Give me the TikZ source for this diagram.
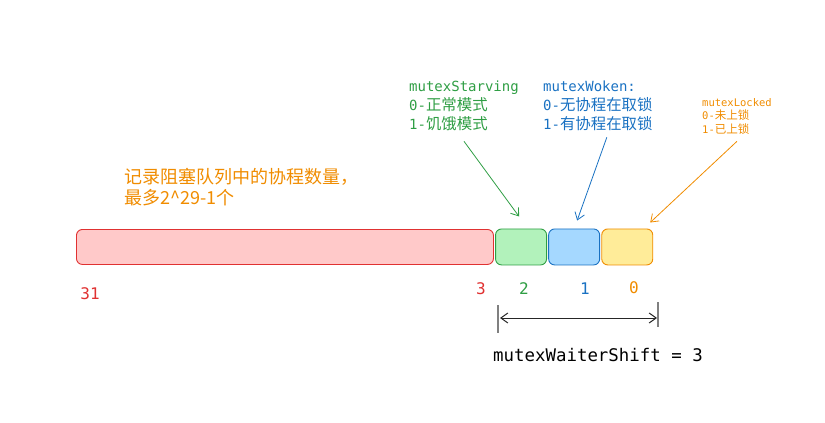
\documentclass[tikz,border=0pt]{standalone}
\usepackage{fontspec}
\setmonofont{DejaVu Sans Mono}
\newfontfamily\cjk{Noto Sans CJK SC}
\newfontfamily\cjkwide{Noto Sans CJK SC}[Scale=1.1]
\usetikzlibrary{arrows.meta,positioning}
\definecolor{bitred}{HTML}{E03131}
\definecolor{bitgreen}{HTML}{2F9E44}
\definecolor{bitblue}{HTML}{1971C2}
\definecolor{bitorange}{HTML}{F08C00}
\definecolor{fillred}{HTML}{FFC9C9}
\definecolor{fillgreen}{HTML}{B2F2BB}
\definecolor{fillblue}{HTML}{A5D8FF}
\definecolor{fillyellow}{HTML}{FFEC99}
\newcommand{\zh}[1]{{\cjkwide #1}}

\begin{document}
\begin{tikzpicture}[
      x=1pt, y=-1pt, >={Straight Barb[length=7pt,width=10pt]},
      field/.style={draw, rounded corners=6pt, minimum height=35pt, inner sep=0pt,
                    line width=0.9pt},
      flag/.style={field, minimum width=51pt, minimum height=36pt},
      bitno/.style={font=\ttfamily\fontsize{16}{16}\selectfont, inner sep=0pt},
      note/.style={align=left, inner sep=0pt, anchor=north west,
                   font=\ttfamily\fontsize{14}{19}\selectfont},
      pointer/.style={->, line width=0.8pt},
    ]
    \useasboundingbox (0,0) rectangle (825,423);

    % the 32 bit state word
    \node[field, fill=fillred, draw=bitred, minimum width=417pt, anchor=north west]
      (waiters) at (76,229) {};
    \node[flag, fill=fillgreen, draw=bitgreen, right=1.2pt of waiters] (starving) {};
    \node[flag, fill=fillblue, draw=bitblue, right=1.2pt of starving] (woken) {};
    \node[flag, fill=fillyellow, draw=bitorange, right=1.2pt of woken] (locked) {};

    % bit numbers
    \node[bitno, text=bitred] (b31) at (90,294) {31};
    \node[bitno, text=bitred] (b3) at (481,289) {3};
    \node[bitno, text=bitgreen] (b2) at (524,289) {2};
    \node[bitno, text=bitblue] (b1) at (585,289) {1};
    \node[bitno, text=bitorange] (b0) at (634,288) {0};

    % notes
    \node[note, text=bitorange, font=\cjk\fontsize{18}{21}\selectfont] (waitnote)
      at (124,168) {记录阻塞队列中的协程数量，\\最多2\^{}29-1个};
    \node[note, text=bitgreen] (starvnote) at (409,81)
      {mutexStarving\\0-\zh{正常模式}\\1-\zh{饥饿模式}};
    \node[note, text=bitblue] (wokennote) at (543,81)
      {mutexWoken:\\0-\zh{无协程在取锁}\\1-\zh{有协程在取锁}};
    \node[note, text=bitorange, font=\ttfamily\fontsize{10.5}{13.5}\selectfont]
      (lockednote) at (702,98)
      {mutexLocked\\0-\zh{未上锁}\\1-\zh{已上锁}};

    \draw[pointer, bitgreen] ([yshift=-10pt]starvnote.south) -- ([xshift=-2pt,yshift=12pt]starving.north);
    \draw[pointer, bitblue] ([xshift=9pt,yshift=-6pt]wokennote.south) -- ([xshift=3pt,yshift=8pt]woken.north);
    \draw[pointer, bitorange] ([yshift=-7pt]lockednote.south) -- ([xshift=-3pt,yshift=6pt]locked.north east);

    % shift width
    \coordinate (dimL) at (498,318);
    \coordinate (dimR) at (658,318);
    \draw[gray, line width=1.2pt] ([yshift=13pt]dimL) -- ([yshift=-15pt]dimL);
    \draw[gray, line width=1.2pt] ([yshift=16pt]dimR) -- ([yshift=-9pt]dimR);
    \draw[<->, black!85, line width=1pt, shorten <=2pt, shorten >=1pt] (dimL) -- (dimR);
    \node[font=\ttfamily\fontsize{17.4}{18}\selectfont, inner sep=0pt] (shift)
      at (598,355) {mutexWaiterShift = 3};
  \end{tikzpicture}
\end{document}
